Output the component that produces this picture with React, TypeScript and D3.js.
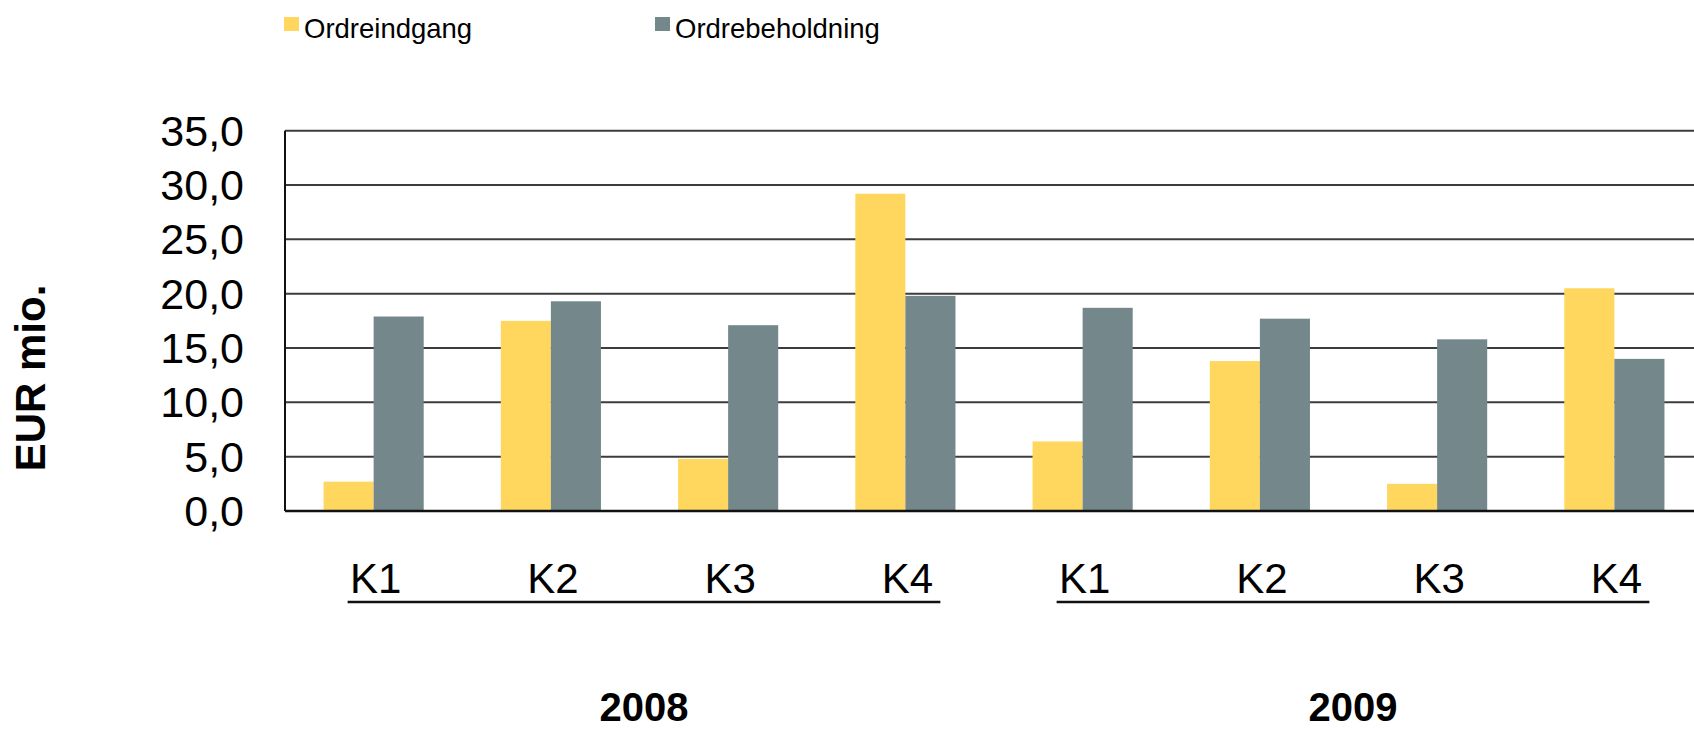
import React, { useRef, useEffect } from 'react';
import * as d3 from 'd3';

const years = ['2008', '2009'];
const quarters = ['K1', 'K2', 'K3', 'K4'];
const categories = years.flatMap(y => quarters.map(q => `${y}-${q}`));
const seriesNames = ['Ordreindgang', 'Ordrebeholdning'];
const ordreindgang = [2.7, 17.5, 4.8, 29.2, 6.4, 13.8, 2.5, 20.5];
const ordrebeholdning = [17.9, 19.3, 17.1, 19.8, 18.7, 17.7, 15.8, 14.0];
const yTicks = [0, 5, 10, 15, 20, 25, 30, 35];
const colors = ['#FFD75F', '#74878B'];

const W = 1694;
const H = 730;
const FONT = '"Liberation Sans", Arial, sans-serif';

const App = () => {
  const ref = useRef<SVGSVGElement>(null);

  useEffect(() => {
    const svg = d3.select(ref.current);
    svg.selectAll('*').remove();

    const left = 285;
    const top = 130.7;
    const bottom = 511;

    const x = d3.scaleBand().domain(categories).range([left, 1703])
      .paddingInner(0.435).paddingOuter(0.2175);
    const xs = d3.scaleBand().domain(seriesNames).range([0, x.bandwidth()]);
    const y = d3.scaleLinear().domain([0, 35]).range([bottom, top]);

    const loc = d3.formatLocale({ decimal: ',', thousands: '.', grouping: [3], currency: ['', ''] });
    const fmt = loc.format('.1f');

    // gridlines
    svg.append('g').selectAll('line')
      .data(yTicks.filter(t => t > 0))
      .enter().append('line')
      .attr('x1', left).attr('x2', W)
      .attr('y1', d => y(d)).attr('y2', d => y(d))
      .attr('stroke', '#3c3c3c').attr('stroke-width', 2);

    // bars
    const data = categories.map((c, i) => ({ c, vals: [ordreindgang[i], ordrebeholdning[i]] }));
    const g = svg.append('g').selectAll('g')
      .data(data).enter().append('g')
      .attr('transform', d => `translate(${x(d.c)},0)`);
    g.selectAll('rect')
      .data(d => d.vals.map((v, j) => ({ v, s: seriesNames[j], j })))
      .enter().append('rect')
      .attr('x', d => xs(d.s)!)
      .attr('width', xs.bandwidth())
      .attr('y', d => y(d.v))
      .attr('height', d => bottom - y(d.v))
      .attr('fill', d => colors[d.j]);

    // axes lines
    svg.append('line').attr('x1', left).attr('x2', left).attr('y1', top).attr('y2', bottom)
      .attr('stroke', '#111').attr('stroke-width', 2);
    svg.append('line').attr('x1', left).attr('x2', W).attr('y1', bottom).attr('y2', bottom)
      .attr('stroke', '#111').attr('stroke-width', 2.5);

    // y tick labels
    svg.append('g').selectAll('text')
      .data(yTicks).enter().append('text')
      .attr('x', 244).attr('y', d => y(d) + 15)
      .attr('text-anchor', 'end')
      .attr('font-family', FONT).attr('font-size', 43)
      .attr('fill', '#000')
      .text(d => fmt(d));

    // quarter labels
    svg.append('g').selectAll('text')
      .data(categories).enter().append('text')
      .attr('x', d => x(d)! + x.bandwidth() / 2 + 2)
      .attr('y', 593)
      .attr('text-anchor', 'middle')
      .attr('font-family', FONT).attr('font-size', 42)
      .text(d => d.split('-')[1]);

    // year underlines and labels
    years.forEach(yr => {
      const first = x(`${yr}-K1`)! + x.bandwidth() / 2;
      const last = x(`${yr}-K4`)! + x.bandwidth() / 2;
      const x1 = first - 26;
      const x2 = last + 35;
      svg.append('line').attr('x1', x1).attr('x2', x2).attr('y1', 602).attr('y2', 602)
        .attr('stroke', '#111').attr('stroke-width', 2.5);
      svg.append('text')
        .attr('x', (x1 + x2) / 2).attr('y', 721)
        .attr('text-anchor', 'middle')
        .attr('font-family', FONT).attr('font-size', 40).attr('font-weight', 'bold')
        .text(yr);
    });

    // y axis title
    svg.append('text')
      .attr('transform', 'translate(45,378) rotate(-90)')
      .attr('text-anchor', 'middle')
      .attr('font-family', FONT).attr('font-size', 42).attr('font-weight', 'bold')
      .text('EUR mio.');

    // legend
    const legendX = [284, 655];
    seriesNames.forEach((s, i) => {
      svg.append('rect').attr('x', legendX[i]).attr('y', 17).attr('width', 15).attr('height', 14)
        .attr('fill', colors[i]);
      svg.append('text').attr('x', legendX[i] + 20).attr('y', 38)
        .attr('font-family', FONT).attr('font-size', 27.5)
        .text(s);
    });
  }, []);

  return (
    <svg ref={ref} width={W} height={H}
      style={{ position: 'absolute', left: 0, top: 0, background: '#fff' }} />
  );
};

export default App;
